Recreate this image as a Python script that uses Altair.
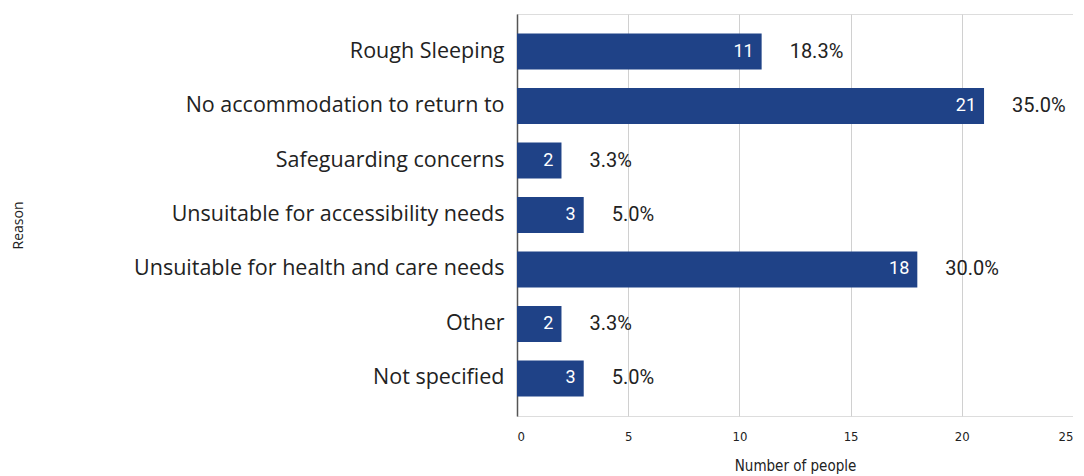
import altair as alt
import pandas as pd

reasons = ["Rough Sleeping", "No accommodation to return to", "Safeguarding concerns",
           "Unsuitable for accessibility needs", "Unsuitable for health and care needs",
           "Other", "Not specified"]
counts = [11, 21, 2, 3, 18, 2, 3]
percents = ["18.3%", "35.0%", "3.3%", "5.0%", "30.0%", "3.3%", "5.0%"]

df = pd.DataFrame({"Reason": reasons, "Count": counts, "Pct": percents})

narrow = "Liberation Sans Narrow, DejaVu Sans Condensed, Roboto Condensed, Roboto, sans-serif"

y = alt.Y("Reason:N", sort=reasons,
          scale=alt.Scale(paddingInner=0.34, paddingOuter=0.36),
          axis=alt.Axis(title="Reason", labelFontSize=21.5, labelFont="Open Sans",
                        labelColor="#222222", labelPadding=13, labelLimit=0, ticks=False,
                        domainColor="#555555", domainWidth=1.5,
                        titleFont="Open Sans", titleFontSize=14, titleFontWeight="normal",
                        titleColor="#222222", titleAngle=-90, titleX=-499, titleY=211,
                        titleAlign="center", titleBaseline="middle"))

x = alt.X("Count:Q", scale=alt.Scale(domain=[0, 25], nice=False),
          axis=alt.Axis(title="Number of people", values=[0, 5, 10, 15, 20, 25],
                        labelFont=narrow, labelFontSize=13,
                        labelColor="#222222", labelPadding=14, ticks=False, domain=False,
                        grid=True, gridColor="#d0d0d0",
                        titleFont=narrow, titleFontSize=15,
                        titleFontWeight="normal", titleColor="#222222", titlePadding=15))

base = alt.Chart(df)

bars = base.mark_bar(color="#1f4287").encode(x=x, y=y)

inner = base.mark_text(align="right", baseline="middle", dx=-8, color="white",
                       font="Roboto", fontSize=18).encode(
    x="Count:Q", y=alt.Y("Reason:N", sort=reasons), text="Count:Q")

outer = base.mark_text(align="left", baseline="middle", dx=28, color="#222222",
                       font="Roboto", fontSize=20).encode(
    x="Count:Q", y=alt.Y("Reason:N", sort=reasons), text="Pct:N")

chart = (bars + inner + outer).properties(
    width=556, height=402,
    autosize=alt.AutoSizeParams(type="none"),
    padding={"left": 509, "top": 6, "right": 0, "bottom": 60},
).configure_view(stroke=None).configure(background="white")

chart.save("out.html", embed_options={"renderer": "svg", "actions": False})
